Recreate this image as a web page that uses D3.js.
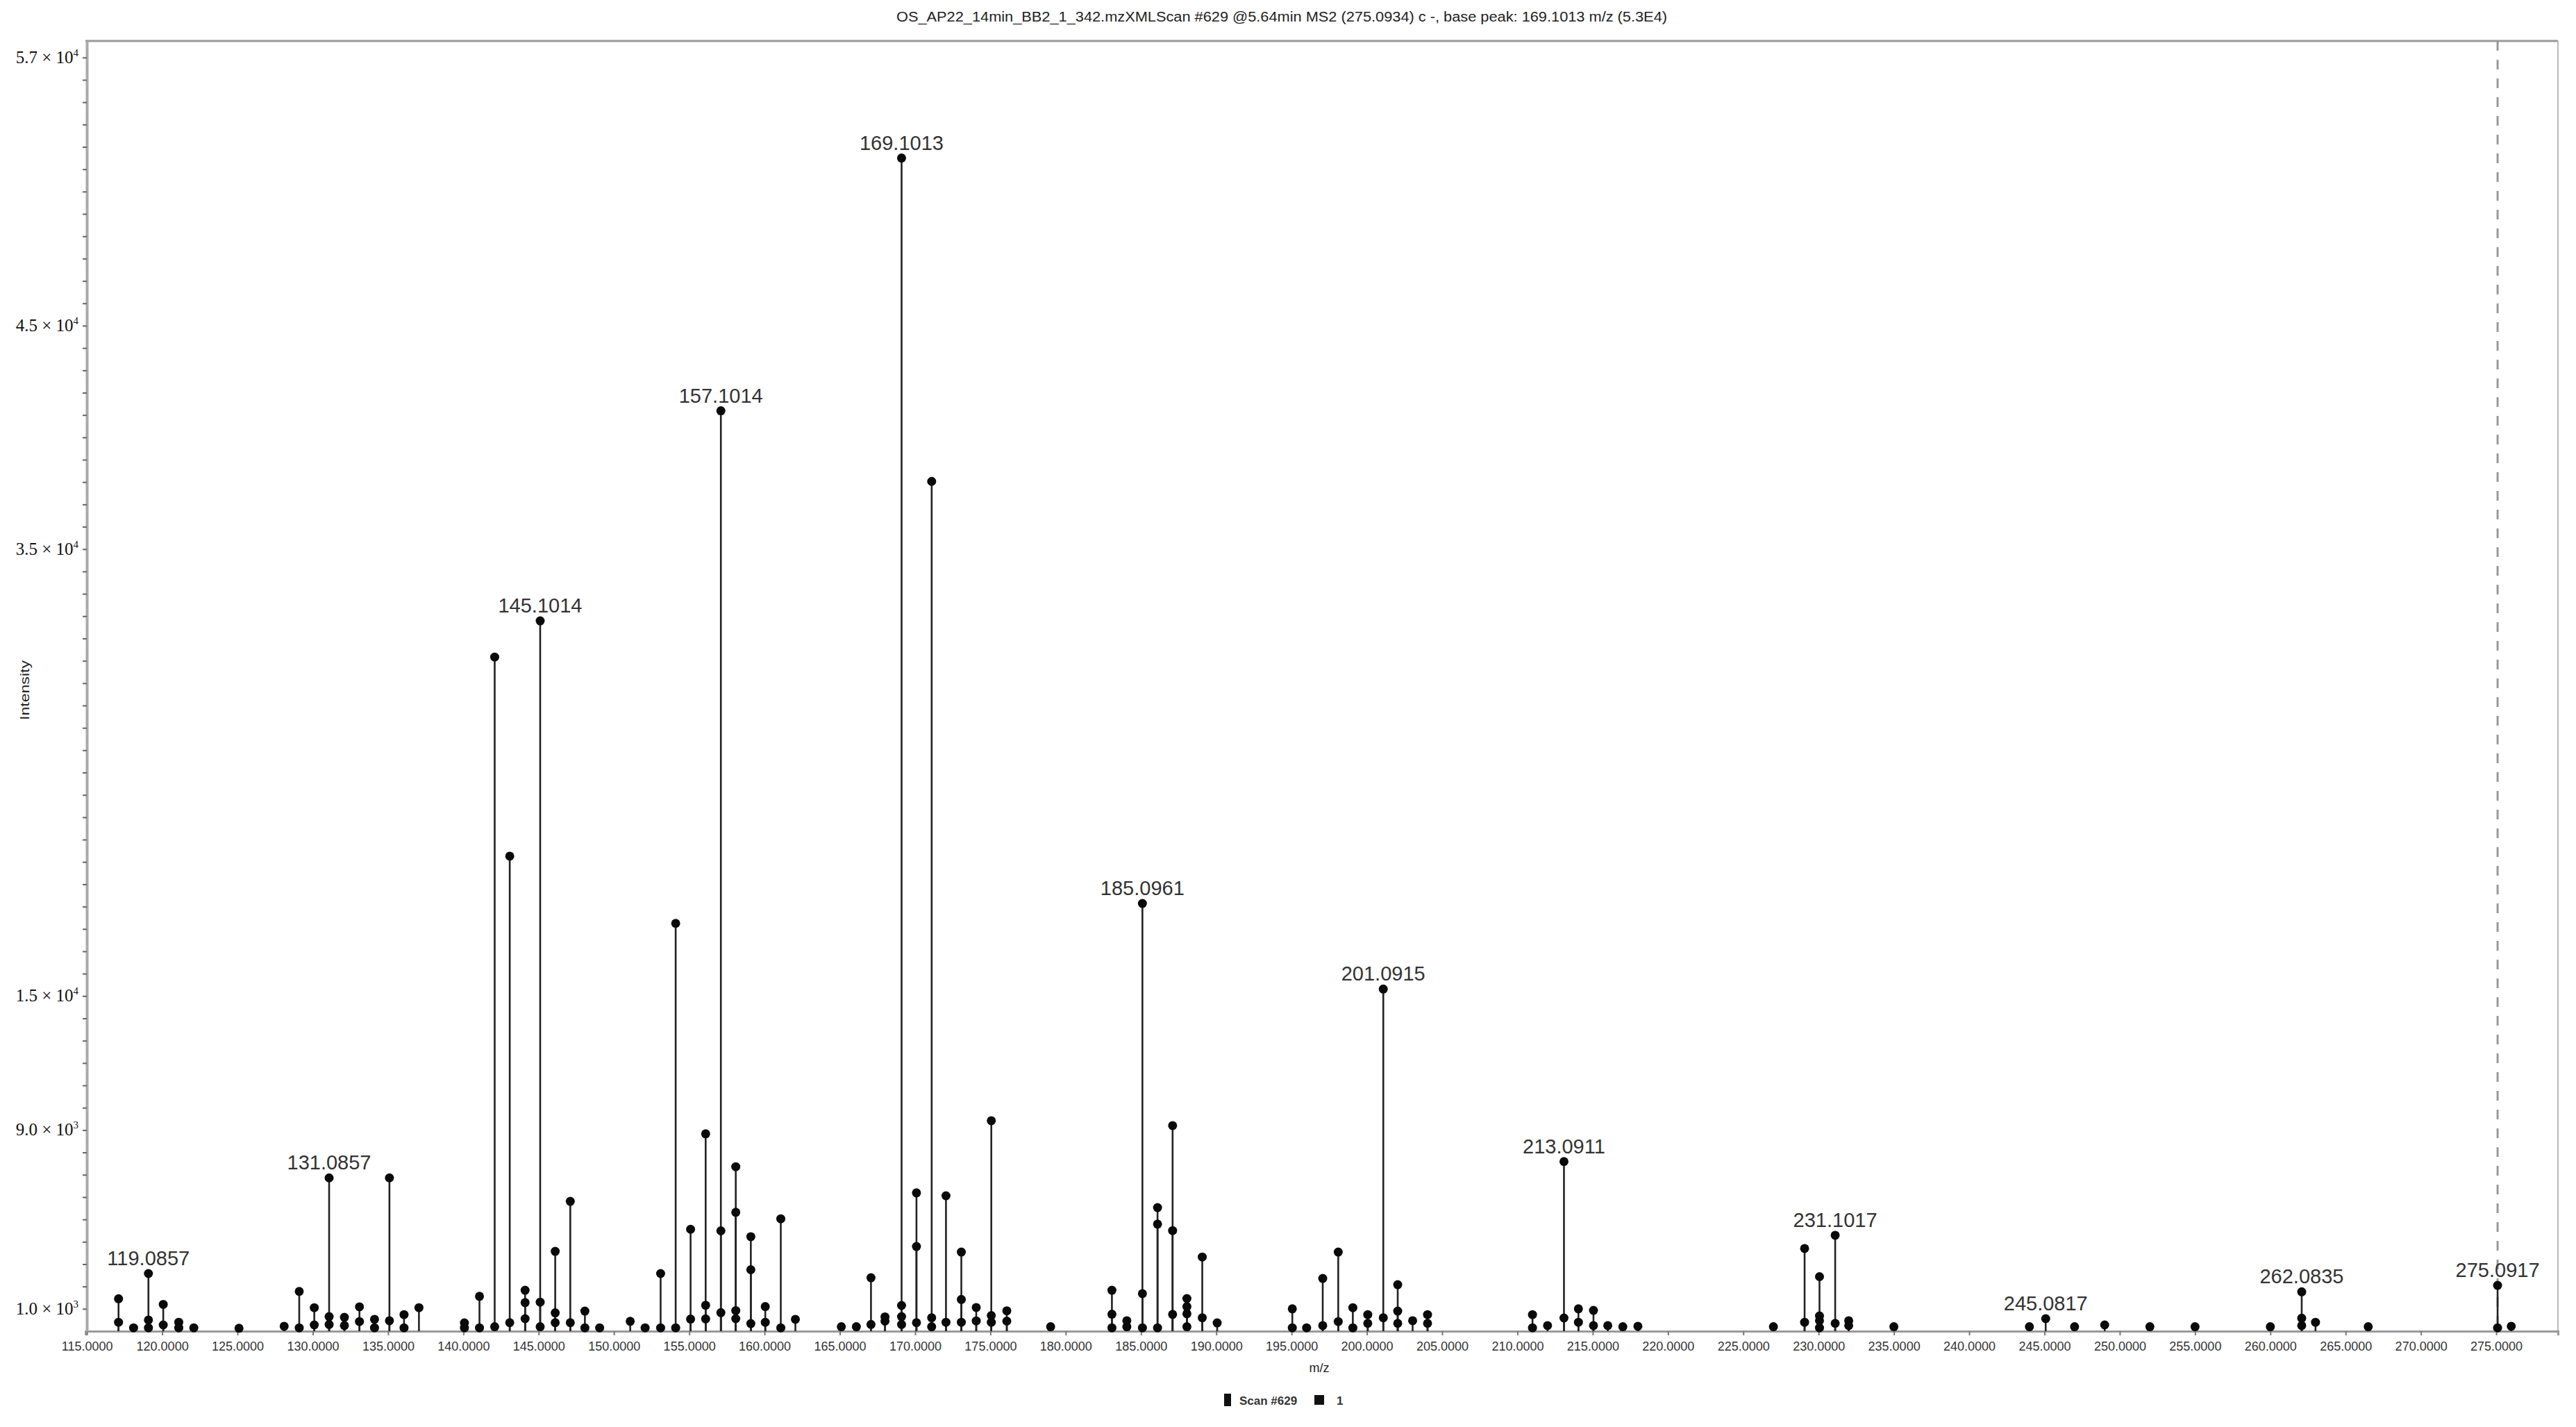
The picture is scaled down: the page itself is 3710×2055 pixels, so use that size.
<!DOCTYPE html>
<html>
<head>
<meta charset="utf-8">
<script src="https://cdn.jsdelivr.net/npm/d3@7"></script>
<style>
  html, body { margin: 0; padding: 0; background: #fff; }
  svg { display: block; }
</style>
</head>
<body>
<svg id="chart" width="3710" height="2055"></svg>
<script>
// ---------------- DATA ----------------
const titleText = "OS_AP22_14min_BB2_1_342.mzXMLScan #629 @5.64min MS2 (275.0934) c -, base peak: 169.1013 m/z (5.3E4)";
const xAxisTitle = "m/z";
const yAxisTitle = "Intensity";
const legendLabels = ["Scan #629", "1"];

// peaks (parallel arrays): m/z and intensity
const peakMz = [
  117.1, 117.1, 118.1, 119.0857, 119.0857, 119.0857, 120.07, 120.07, 121.1, 121.1, 122.1,
  125.1, 128.1, 129.1, 129.1, 130.1, 130.1, 131.0857, 131.0857, 131.0857, 132.1, 132.1,
  133.1, 133.1, 134.1, 134.1, 135.09, 135.09, 136.06, 136.06, 137.05, 140.07, 140.07,
  141.07, 141.07, 142.08, 142.08, 143.08, 143.08, 144.1, 144.1, 144.1, 145.1014, 145.1014, 145.1014,
  146.1, 146.1, 146.1, 147.1, 147.1, 148.07, 148.07, 149.05, 151.08, 152.07, 153.1, 153.1,
  154.1, 154.1, 155.09, 155.09, 156.09, 156.09, 156.09, 157.1014, 157.1014, 157.1014,
  158.09, 158.09, 158.09, 158.09, 159.09, 159.09, 159.09, 160.05, 160.05, 161.08, 161.08, 162.05,
  165.1, 166.1, 167.07, 167.07, 168.0, 168.0, 169.1013, 169.1013, 169.1013, 169.1013,
  170.09, 170.09, 170.09, 171.1, 171.1, 171.1, 172.05, 172.05, 173.07, 173.07, 173.07,
  174.06, 174.06, 175.06, 175.06, 175.06, 176.09, 176.09, 179.0,
  183.07, 183.07, 183.07, 184.06, 184.06, 185.0961, 185.0961, 185.0961, 186.1, 186.1, 186.1,
  187.1, 187.1, 187.1, 188.05, 188.05, 188.05, 188.05, 189.07, 189.07, 190.06,
  195.05, 195.05, 196.0, 197.07, 197.07, 198.1, 198.1, 199.07, 199.07, 200.06, 200.06,
  201.0915, 201.0915, 202.05, 202.05, 202.05, 203.04, 204.03, 204.03,
  211.0, 211.0, 212.0, 213.0911, 213.0911, 214.05, 214.05, 215.05, 215.05, 216.0, 217.0, 218.0,
  227.0, 229.07, 229.07, 230.06, 230.06, 230.06, 230.06, 231.1017, 231.1017, 232.0, 232.0, 235.0,
  244.0, 245.0817, 247.0, 249.0, 252.0, 255.0, 260.0, 262.0835, 262.0835, 262.0835, 263.0,
  266.5, 275.0917, 275.0917, 276.0
];
const peakIntensity = [
  1450, 400, 150, 2580, 500, 150, 1200, 280, 400, 150, 150,
  130, 220, 1780, 150, 1050, 280, 6860, 650, 300, 620, 250,
  1090, 430, 530, 150, 6860, 470, 740, 150, 1050, 370, 150,
  1560, 150, 30170, 200, 21260, 380, 1830, 1280, 560, 31790, 1300, 200,
  3570, 820, 380, 5810, 380, 900, 150, 150, 440, 150, 2580, 150,
  18250, 150, 4560, 540, 8830, 1160, 550, 41190, 4490, 830,
  7360, 5320, 920, 560, 4230, 2750, 340, 1100, 400, 5030, 150, 530,
  200, 200, 2390, 300, 640, 450, 52500, 1150, 650, 300,
  6190, 3790, 380, 38030, 600, 200, 6060, 400, 3540, 1420, 400,
  1060, 460, 9420, 700, 400, 910, 450, 200,
  1830, 760, 150, 470, 200, 19140, 1680, 150, 5530, 4790, 150,
  9200, 4500, 750, 1460, 1100, 780, 200, 3320, 600, 370,
  1000, 150, 150, 2360, 250, 3540, 430, 1050, 150, 740, 350,
  15310, 600, 2080, 900, 350, 470, 740, 350,
  740, 150, 250, 7590, 590, 1000, 400, 930, 250, 250, 200, 220,
  200, 3700, 400, 2440, 680, 470, 150, 4290, 350, 470, 250, 200,
  200, 560, 200, 280, 200, 200, 200, 1760, 580, 250, 400,
  200, 2050, 150, 220
];
// labelled peaks
const labeledMz = [119.0857, 131.0857, 145.1014, 157.1014, 169.1013, 185.0961, 201.0915, 213.0911, 231.1017, 245.0817, 262.0835, 275.0917];
// precursor marker (dashed line)
const precursorMz = [275.0917];
// axis ticks
const xTickValues = d3.range(115, 276, 5);
const yLabeledTicks = [1000, 9000, 15000, 35000, 45000, 57000];
const yMinorTicks = d3.range(1000, 57001, 1000);

// ---------------- CHART ----------------
const svg = d3.select("#chart");
svg.append("rect").attr("width", 3710).attr("height", 2055).attr("fill", "#fff");

const x = d3.scaleLinear().domain([114.9, 279.1]).range([123, 3684]);
const y = d3.scaleLinear().domain([0, 57740]).range([1917, 59]);

const sans = "'Liberation Sans', Arial, sans-serif";
const serif = "'Liberation Serif', 'Times New Roman', serif";

// title
svg.append("text")
  .attr("x", 1846).attr("y", 31)
  .attr("text-anchor", "middle")
  .attr("font-family", sans).attr("font-size", 20)
  .attr("textLength", 1110).attr("lengthAdjust", "spacingAndGlyphs")
  .attr("fill", "#222")
  .text(titleText);

// frame (top & right)
svg.append("line").attr("x1", x.range()[0]).attr("x2", x.range()[1])
  .attr("y1", y.range()[1]).attr("y2", y.range()[1])
  .attr("stroke", "#999").attr("stroke-width", 3);
svg.append("line").attr("x1", x.range()[1]).attr("x2", x.range()[1])
  .attr("y1", y.range()[1]).attr("y2", y.range()[0])
  .attr("stroke", "#bbb").attr("stroke-width", 2);

// precursor dashed line
svg.selectAll(".prec").data(precursorMz).join("line")
  .attr("x1", d => x(d)).attr("x2", d => x(d))
  .attr("y1", y.range()[1]).attr("y2", y.range()[0])
  .attr("stroke", "#999").attr("stroke-width", 3)
  .attr("stroke-dasharray", "14,13");

// x axis
const xAxis = svg.append("g")
  .attr("transform", `translate(0,${y(0)})`)
  .call(d3.axisBottom(x).tickValues(xTickValues).tickFormat(d3.format(".4f")).tickSize(6).tickPadding(9));
xAxis.select(".domain").attr("stroke", "#999").attr("stroke-width", 3);
xAxis.selectAll(".tick line").attr("stroke", "#777").attr("stroke-width", 2);
xAxis.selectAll(".tick text").attr("font-family", sans).attr("font-size", 18).attr("fill", "#333");

// y axis
const yAxis = svg.append("g")
  .attr("transform", `translate(${x.range()[0] + 2},0)`)
  .call(d3.axisLeft(y).tickValues(yMinorTicks).tickFormat("").tickSize(6).tickSizeOuter(0));
yAxis.select(".domain").attr("stroke", "#aaa").attr("stroke-width", 4);
yAxis.selectAll(".tick line").attr("stroke", "#666").attr("stroke-width", 2);

const yLab = svg.append("g");
yLabeledTicks.forEach(v => {
  const e = Math.floor(Math.log10(v));
  const m = (v / Math.pow(10, e)).toFixed(1);
  const t = yLab.append("text")
    .attr("x", 113).attr("y", y(v) + 8)
    .attr("text-anchor", "end")
    .attr("font-family", serif).attr("font-size", 25).attr("fill", "#111");
  t.append("tspan").text(m + " \u00d7 10");
  t.append("tspan").attr("font-size", 15).attr("dy", -10).text(e);
});

// axis titles
svg.append("text")
  .attr("transform", "translate(42,994) rotate(-90)")
  .attr("text-anchor", "middle")
  .attr("font-family", sans).attr("font-size", 19).attr("fill", "#222")
  .attr("textLength", 86).attr("lengthAdjust", "spacingAndGlyphs")
  .text(yAxisTitle);
svg.append("text")
  .attr("x", 1900).attr("y", 1976)
  .attr("text-anchor", "middle")
  .attr("font-family", sans).attr("font-size", 18).attr("fill", "#222")
  .text(xAxisTitle);

// peaks
const peaks = peakMz.map((m, i) => ({ mz: m, v: peakIntensity[i] }));
const g = svg.append("g");
g.selectAll("line.stem").data(peaks).join("line")
  .attr("class", "stem")
  .attr("x1", d => x(d.mz)).attr("x2", d => x(d.mz))
  .attr("y1", y(0)).attr("y2", d => y(d.v))
  .attr("stroke", "#222").attr("stroke-width", 2.6);
g.selectAll("circle").data(peaks).join("circle")
  .attr("cx", d => x(d.mz)).attr("cy", d => y(d.v))
  .attr("r", 6.5).attr("fill", "#0a0a0a");

// peak labels
const labelData = labeledMz.map(m => ({ mz: m, v: d3.max(peaks.filter(p => p.mz === m), p => p.v) }));
svg.selectAll("text.plab").data(labelData).join("text")
  .attr("class", "plab")
  .attr("x", d => x(d.mz)).attr("y", d => y(d.v) - 12)
  .attr("text-anchor", "middle")
  .attr("font-family", sans).attr("font-size", 29).attr("fill", "#333")
  .text(d => d.mz.toFixed(4));

// legend
const leg = svg.append("g");
leg.append("rect").attr("x", 1763).attr("y", 2007).attr("width", 10).attr("height", 18).attr("fill", "#111");
leg.append("text").attr("x", 1785).attr("y", 2023)
  .attr("font-family", sans).attr("font-size", 17).attr("font-weight", "bold").attr("fill", "#333")
  .text(legendLabels[0]);
leg.append("rect").attr("x", 1893).attr("y", 2009).attr("width", 14).attr("height", 14).attr("fill", "#111");
leg.append("text").attr("x", 1925).attr("y", 2023)
  .attr("font-family", sans).attr("font-size", 17).attr("font-weight", "bold").attr("fill", "#333")
  .text(legendLabels[1]);
</script>
</body>
</html>
